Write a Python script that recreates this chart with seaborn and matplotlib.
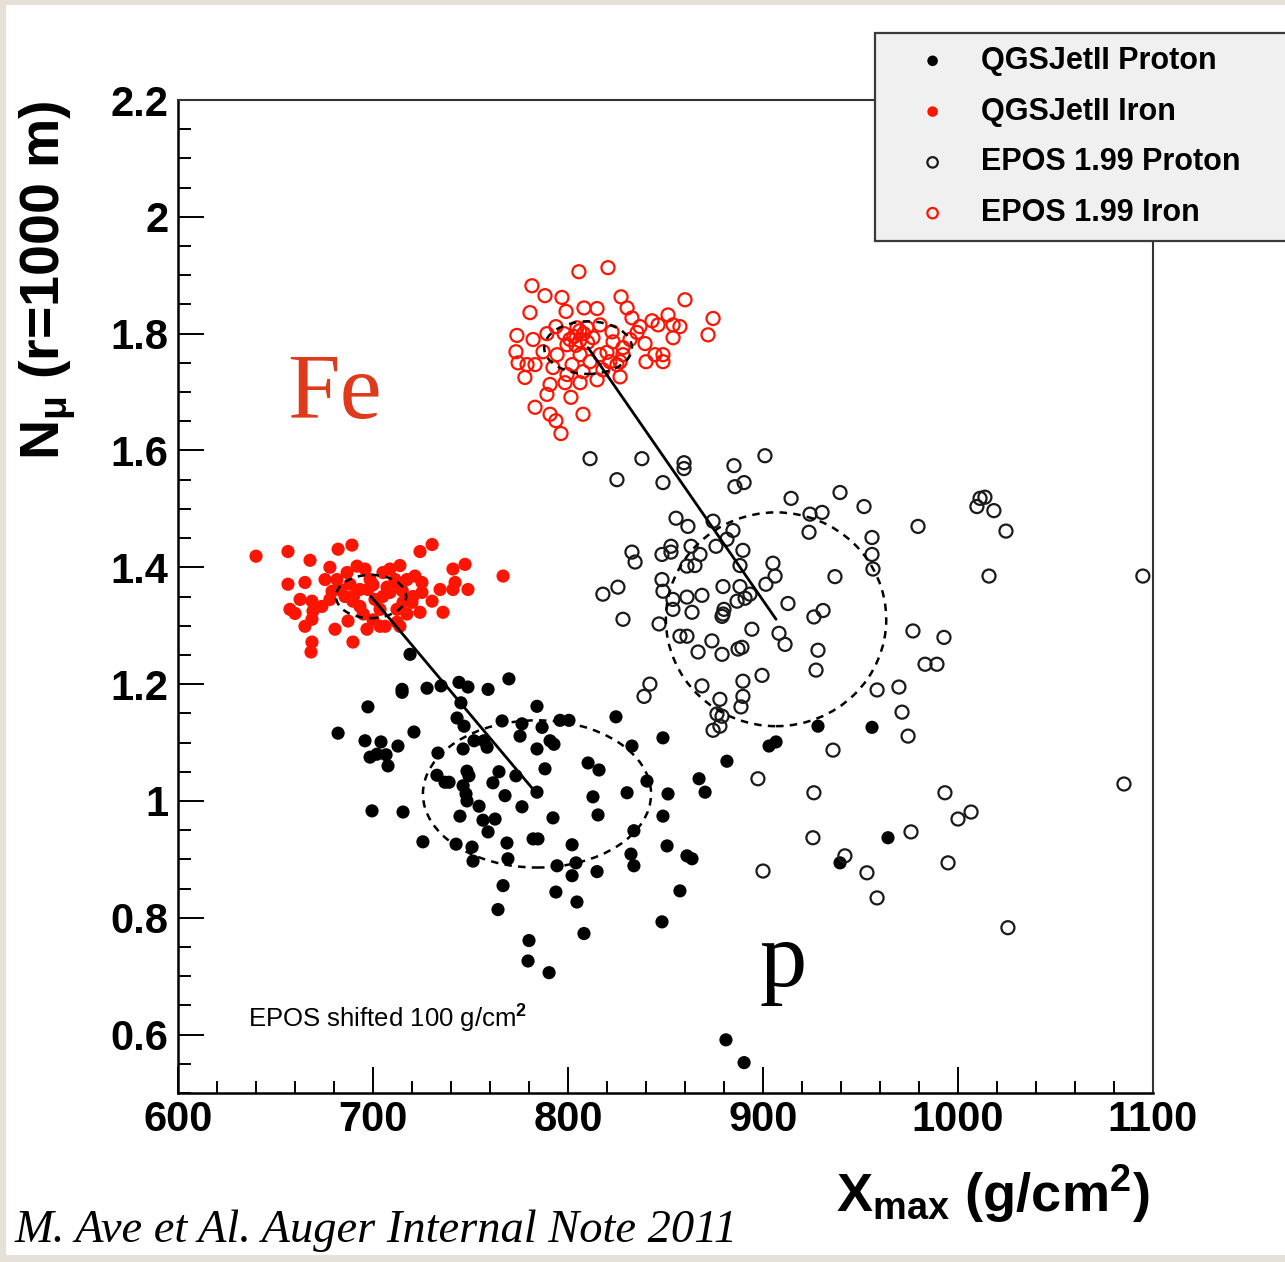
import numpy as np
import pandas as pd
import matplotlib
matplotlib.use("Agg")
import matplotlib.pyplot as plt
import seaborn as sns
from matplotlib.patches import Ellipse, Rectangle
from matplotlib.ticker import MultipleLocator

# ---------------- data ----------------
qgs_fe_x = [640.0,656.4,667.7,682.1,689.2,656.4,665.1,677.9,675.4,681.5,686.7,691.8,679.0,668.7,673.8,669.2,660.0,665.1,668.7,
            680.5,687.2,689.7,693.3,697.4,696.9,703.6,706.2,689.7,668.7,668.2,705.1,708.7,713.8,707.2,712.3,717.4,721.5,725.1,
            725.1,720.5,715.4,712.3,717.4,724.1,712.3,713.8,730.3,735.9,734.4,741.0,742.1,741.0,747.2,748.7,724.1,730.3,766.7,
            693.3,698.5,701.0,703.6,685.6,677.9,708.7,711.3,695.9,688.2,683.1,662.6,657.4,700.0,705.0,695.0,700.0,690.0,715.0,720.0]
qgs_fe_y = [1.419,1.427,1.412,1.431,1.438,1.371,1.374,1.400,1.379,1.379,1.391,1.402,1.359,1.342,1.333,1.325,1.321,1.299,1.311,
            1.294,1.308,1.342,1.333,1.362,1.294,1.299,1.299,1.272,1.272,1.255,1.391,1.397,1.403,1.366,1.374,1.379,1.385,1.374,
            1.357,1.350,1.340,1.328,1.320,1.323,1.306,1.299,1.342,1.323,1.362,1.362,1.374,1.397,1.405,1.362,1.427,1.439,1.385,
            1.362,1.379,1.345,1.328,1.350,1.345,1.357,1.379,1.397,1.371,1.362,1.345,1.328,1.370,1.350,1.320,1.310,1.350,1.360,1.340]

qgs_p_x = [719.0,714.9,714.9,697.4,727.7,734.9,744.1,748.7,759.0,769.7,745.1,784.1,682.1,695.9,704.1,712.8,721.0,698.5,702.0,
           706.7,707.7,743.1,746.7,766.2,776.4,775.4,751.8,756.9,758.5,746.2,733.3,784.1,732.8,736.9,739.0,748.2,749.2,746.2,
           747.7,748.2,764.6,761.5,773.3,767.7,776.4,754.4,744.6,756.4,762.6,759.0,699.5,715.4,784.1,786.7,795.9,800.5,790.8,
           792.8,788.2,792.3,810.3,815.9,824.6,848.7,832.8,840.5,830.3,812.8,815.4,851.3,848.7,833.8,881.5,867.2,870.3,725.6,
           742.6,750.8,751.3,768.7,769.2,782.1,784.6,802.1,794.4,804.1,802.1,814.9,832.3,833.8,850.8,861.0,863.6,766.7,764.1,
           793.8,804.6,857.4,848.2,780.0,779.5,790.3,808.2,881.0,890.3,928.2,955.9,903.1,906.7,964.1,939.5]
qgs_p_y = [1.251,1.191,1.186,1.161,1.193,1.197,1.203,1.195,1.191,1.209,1.168,1.162,1.116,1.103,1.101,1.094,1.118,1.075,1.080,
           1.079,1.060,1.142,1.128,1.137,1.132,1.111,1.103,1.103,1.092,1.089,1.082,1.089,1.044,1.032,1.032,1.051,1.043,1.026,
           1.012,1.000,1.050,1.031,1.043,1.009,0.990,0.991,0.974,0.967,0.969,0.947,0.983,0.981,1.015,1.126,1.138,1.138,1.103,
           1.097,1.055,0.971,1.065,1.053,1.144,1.108,1.094,1.034,1.014,1.007,0.976,1.012,0.974,0.949,1.068,1.038,1.015,0.930,
           0.926,0.921,0.897,0.928,0.901,0.935,0.935,0.925,0.889,0.894,0.872,0.879,0.909,0.889,0.923,0.906,0.901,0.855,0.814,
           0.844,0.827,0.846,0.793,0.761,0.726,0.706,0.773,0.591,0.552,1.128,1.126,1.094,1.101,0.937,0.894]

epos_fe_x = [805.6,820.5,781.5,788.2,796.9,780.5,799.0,808.2,814.9,827.2,830.3,832.8,860.0,874.4,871.8,851.3,843.1,846.2,853.9,
             857.4,853.9,839.5,844.6,848.7,848.7,840.0,836.9,773.8,773.3,774.4,779.0,782.1,789.2,793.8,777.9,783.1,790.8,789.2,
             798.5,801.5,783.1,790.8,793.8,796.4,807.7,806.2,814.9,817.9,826.7,825.1,828.2,823.1,831.8,820.0,809.7,812.8,804.6,
             816.4,799.5,794.4,802.1,807.7,811.3,787.2,792.3,799.5,806.2,816.4,821.5,826.7,828.2,822.6,835.4,
             803.0,806.0,808.0,801.0,804.0,810.0,798.0,806.0]
epos_fe_y = [1.906,1.913,1.882,1.865,1.862,1.836,1.838,1.844,1.843,1.863,1.844,1.827,1.858,1.826,1.798,1.832,1.822,1.815,1.815,
             1.812,1.793,1.783,1.764,1.752,1.764,1.752,1.812,1.797,1.769,1.750,1.747,1.790,1.800,1.812,1.725,1.747,1.713,1.696,
             1.716,1.691,1.674,1.662,1.651,1.629,1.662,1.716,1.721,1.738,1.726,1.747,1.764,1.786,1.790,1.768,1.810,1.793,1.810,
             1.815,1.781,1.764,1.747,1.735,1.752,1.769,1.742,1.730,1.764,1.764,1.752,1.752,1.776,1.803,1.802,
             1.795,1.788,1.800,1.790,1.780,1.785,1.800,1.805]

epos_p_x = [811.3,837.9,825.1,848.7,859.5,859.5,885.1,885.6,890.3,901.0,855.4,861.5,874.4,884.6,875.9,881.5,889.7,863.1,867.7,
            852.8,852.8,848.2,832.8,834.4,861.0,865.1,888.2,848.2,848.7,825.6,817.9,853.8,861.0,868.7,879.5,888.2,893.3,886.7,
            890.8,853.8,863.6,880.0,879.5,828.2,846.7,879.0,857.4,861.0,873.8,866.7,879.0,887.2,889.2,894.3,889.7,842.0,839.0,
            868.7,877.9,889.7,888.7,876.4,879.0,877.9,874.4,914.4,939.5,951.8,924.1,930.3,923.6,955.9,955.9,956.4,979.5,1009.7,
            1013.8,1011.3,1018.4,1024.6,1015.9,905.1,906.2,901.5,936.9,912.8,930.8,926.1,908.2,911.3,928.2,927.2,899.5,976.9,
            992.8,983.1,989.2,958.5,969.7,971.3,974.4,935.9,897.4,926.1,993.3,1000.0,1006.7,925.6,975.9,942.0,953.3,958.5,900.0,
            994.9,1025.6,1094.8,1085.1]
epos_p_y = [1.586,1.586,1.550,1.545,1.579,1.569,1.574,1.538,1.545,1.591,1.484,1.470,1.479,1.463,1.436,1.448,1.429,1.436,1.422,
            1.436,1.426,1.422,1.426,1.409,1.402,1.403,1.403,1.379,1.359,1.366,1.354,1.345,1.349,1.352,1.367,1.367,1.354,1.342,
            1.347,1.328,1.323,1.328,1.320,1.311,1.303,1.316,1.282,1.282,1.274,1.255,1.251,1.260,1.263,1.294,1.205,1.200,1.179,
            1.197,1.174,1.179,1.161,1.149,1.145,1.128,1.121,1.518,1.528,1.504,1.491,1.494,1.460,1.451,1.422,1.397,1.470,1.504,
            1.520,1.518,1.497,1.462,1.385,1.407,1.385,1.371,1.384,1.338,1.326,1.315,1.287,1.268,1.258,1.224,1.215,1.291,
            1.280,1.234,1.234,1.190,1.195,1.152,1.111,1.087,1.038,1.014,1.014,0.969,0.981,0.937,0.947,0.906,0.877,0.834,0.880,
            0.894,0.783,1.385,1.029]

# ellipses (centre x, centre y, full width, full height) and mean-connecting lines
ell_cx = [699.0, 784.1, 810.3, 906.7]
ell_cy = [1.350, 1.012, 1.776, 1.311]
ell_w = [36.0, 117.0, 45.0, 113.0]
ell_h = [0.074, 0.252, 0.090, 0.366]
line1_x = [699.0, 784.1]
line1_y = [1.350, 1.012]
line2_x = [810.3, 906.7]
line2_y = [1.776, 1.311]

x_ticks = [600, 700, 800, 900, 1000, 1100]
x_tick_labels = ["600", "700", "800", "900", "1000", "1100"]
y_ticks = [0.6, 0.8, 1.0, 1.2, 1.4, 1.6, 1.8, 2.0, 2.2]
y_tick_labels = ["0.6", "0.8", "1", "1.2", "1.4", "1.6", "1.8", "2", "2.2"]

labels = ["QGSJetII Proton", "QGSJetII Iron", "EPOS 1.99 Proton", "EPOS 1.99 Iron"]

# ---------------- style ----------------
sns.set_style("white")
plt.rcParams["font.family"] = ["Liberation Sans", "DejaVu Sans"]
plt.rcParams["mathtext.fontset"] = "custom"
plt.rcParams["mathtext.rm"] = "Liberation Sans:bold"
plt.rcParams["mathtext.bf"] = "Liberation Sans:bold"
plt.rcParams["mathtext.it"] = "Liberation Sans:bold"
plt.rcParams["mathtext.default"] = "rm"
plt.rcParams["text.color"] = "black"
plt.rcParams["axes.labelcolor"] = "black"
plt.rcParams["xtick.color"] = "black"
plt.rcParams["ytick.color"] = "black"

W, H = 1285, 1262
fig = plt.figure(figsize=(W / 100, H / 100), dpi=100)
fig.patch.set_facecolor("#e6e1d8")
fig.patches.append(Rectangle((6 / W, 7 / H), 1 - 6 / W, 1 - 12 / H, transform=fig.transFigure,
                             facecolor="white", edgecolor="none", zorder=-10))

ax = fig.add_axes([178 / W, 1 - 1093 / H, (1153 - 178) / W, (1093 - 100) / H])
ax.set_facecolor("white")
ax.set_zorder(1)

df_p = pd.DataFrame({"x": qgs_p_x, "y": qgs_p_y})
df_fe = pd.DataFrame({"x": qgs_fe_x, "y": qgs_fe_y})
df_ep = pd.DataFrame({"x": epos_p_x, "y": epos_p_y})
df_efe = pd.DataFrame({"x": epos_fe_x, "y": epos_fe_y})

sns.scatterplot(data=df_p, x="x", y="y", ax=ax, color="black", s=90, edgecolor="none",
                label=labels[0], zorder=3)
sns.scatterplot(data=df_fe, x="x", y="y", ax=ax, color="#ff1400", s=90, edgecolor="none",
                label=labels[1], zorder=3)
sns.scatterplot(data=df_ep, x="x", y="y", ax=ax, color="black", facecolors="none", edgecolor="#1a1a1a",
                s=88, linewidth=1.6, label=labels[2], zorder=3)
sns.scatterplot(data=df_efe, x="x", y="y", ax=ax, color="#ff1400", facecolors="none", edgecolor="#ff1400",
                s=88, linewidth=1.6, label=labels[3], zorder=3)

for cx, cy, w, h in zip(ell_cx, ell_cy, ell_w, ell_h):
    ax.add_patch(Ellipse((cx, cy), w, h, fill=False, edgecolor="black", lw=1.8,
                         linestyle=(0, (3, 2.5)), zorder=4))
ax.plot(line1_x, line1_y, color="black", lw=2.0, zorder=5)
ax.plot(line2_x, line2_y, color="black", lw=2.0, zorder=5)

ax.set_xlim(600, 1100)
ax.set_ylim(0.5, 2.2)
ax.set_xticks(x_ticks, labels=x_tick_labels)
ax.set_yticks(y_ticks, labels=y_tick_labels)
ax.xaxis.set_minor_locator(MultipleLocator(20))
ax.yaxis.set_minor_locator(MultipleLocator(0.05))
ax.tick_params(which="both", direction="in", top=False, right=False, color="black",
               labelcolor="black", bottom=True, left=True)
ax.tick_params(which="major", length=19, width=1.4)
ax.tick_params(which="minor", length=9, width=1.4)
ax.tick_params(axis="x", which="major", pad=5)
ax.tick_params(axis="y", which="major", pad=7)
for lab in ax.get_xticklabels() + ax.get_yticklabels():
    lab.set_fontsize(30)
    lab.set_fontweight("bold")
ax.set_xlabel("")
ax.set_ylabel("")
for side in ["left", "bottom"]:
    ax.spines[side].set_linewidth(1.8)
    ax.spines[side].set_color("black")
    ax.spines[side].set_visible(True)
for side in ["top", "right"]:
    ax.spines[side].set_linewidth(1.5)
    ax.spines[side].set_color("#333333")
    ax.spines[side].set_visible(True)

# texts
ax.text(656.0, 1.655, "Fe", color="#e03a1c", fontsize=68, family=["Liberation Serif", "DejaVu Serif"],
        ha="left", va="baseline", zorder=6)
ax.text(898.0, 0.683, "p", color="black", fontsize=68, family=["Liberation Serif", "DejaVu Serif"],
        ha="left", va="baseline", zorder=6)
ax.text(636.0, 0.612, "EPOS shifted 100 g/cm$^{\\mathrm{2}}$", fontsize=18.5, color="black",
        ha="left", va="baseline", zorder=6)

fig.text(1150 / W, 1 - 1212 / H, r"$\mathrm{X_{max}}$ (g/cm$^{\mathrm{2}}$)", fontsize=39,
         fontweight="bold", ha="right", va="baseline")
fig.text(48 / W, 1 - 100 / H, r"$\mathrm{N_{\mu}}$ (r=1000 m)", fontsize=40, fontweight="bold",
         rotation=90, ha="center", va="top")
fig.text(15 / W, 1 - 1242 / H, "M. Ave et Al. Auger Internal Note 2011", fontsize=33.5, style="italic",
         family=["Liberation Serif", "DejaVu Serif"], ha="left", va="baseline")

leg = ax.legend(loc="upper left", bbox_to_anchor=(875 / W, 1 - 232 / H, 0.36, 199 / H),
                bbox_transform=fig.transFigure, mode="expand", borderaxespad=0,
                prop={"family": "Liberation Sans", "weight": "bold", "size": 22},
                markerscale=0.8, handlelength=2.93, handletextpad=0.12, borderpad=0.42,
                labelspacing=0.68, frameon=True, fancybox=False, facecolor="#f0f0f0",
                edgecolor="#3a3a3a", framealpha=1.0)
leg.get_frame().set_linewidth(1.6)
leg.set_zorder(10)

fig.savefig("out.png", dpi=100, facecolor=fig.get_facecolor())
